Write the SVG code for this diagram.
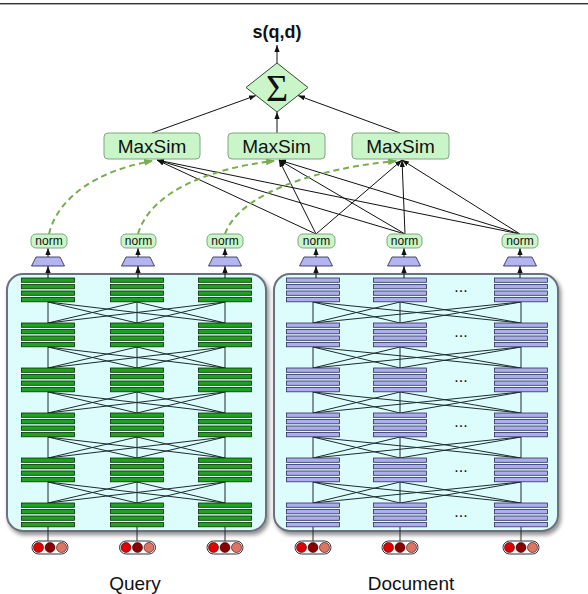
<svg xmlns="http://www.w3.org/2000/svg" xmlns:xlink="http://www.w3.org/1999/xlink" width="588" height="594" viewBox="0 0 588 594">
<style>
.lbl{font-family:"Liberation Sans",Arial,sans-serif;fill:#111;}
.box{fill:#c9f5c9;stroke:#7fa87f;stroke-width:1;}
.edge{stroke:#111;stroke-width:1;fill:none;}
.mesh{stroke:#1c2c2c;stroke-width:1;fill:none;}
.dash{stroke:#77ad4f;stroke-width:2;stroke-dasharray:6 4;fill:none;}
.cont{fill:#ddfcfc;stroke:#6e7080;stroke-width:2;}
.qb{fill:#1fa31f;stroke:#0b2e0b;stroke-width:0.8;}
.db{fill:#adadec;stroke:#2e2e5e;stroke-width:0.8;}
.trap{fill:#b4b4f0;stroke:#222244;stroke-width:0.8;}
.cap{fill:#fff;stroke:#333;stroke-width:1;}
</style>
<defs>
<marker id="ah" viewBox="0 0 8 6" refX="8" refY="3" markerWidth="7" markerHeight="5.5" markerUnits="userSpaceOnUse" orient="auto"><path d="M0,0 L8,3 L0,6 z" fill="#111"/></marker>
<marker id="gh" viewBox="0 0 8 6" refX="7" refY="3" markerWidth="9" markerHeight="7" markerUnits="userSpaceOnUse" orient="auto"><path d="M0,0 L8,3 L0,6 z" fill="#77ad4f"/></marker>
<filter id="sh" x="-10%" y="-10%" width="125%" height="125%"><feGaussianBlur in="SourceAlpha" stdDeviation="2"/><feOffset dx="2" dy="3"/><feComponentTransfer><feFuncA type="linear" slope="0.45"/></feComponentTransfer><feMerge><feMergeNode/><feMergeNode in="SourceGraphic"/></feMerge></filter>
<g id="qblk"><rect class="qb" x="-26.5" y="0" width="53" height="4.3"/><rect class="qb" x="-26.5" y="6.5" width="53" height="4.3"/><rect class="qb" x="-26.5" y="13" width="53" height="4.3"/><rect class="qb" x="-26.5" y="19.5" width="53" height="4.3"/></g>
<g id="dblk"><rect class="db" x="-26.5" y="0" width="53" height="4.3"/><rect class="db" x="-26.5" y="6.5" width="53" height="4.3"/><rect class="db" x="-26.5" y="13" width="53" height="4.3"/><rect class="db" x="-26.5" y="19.5" width="53" height="4.3"/></g>
<path id="qmesh" class="mesh" d="M48,0 L48,21 M48,0 L137,21 M48,0 L225,21 M137,0 L48,21 M137,0 L137,21 M137,0 L225,21 M225,0 L48,21 M225,0 L137,21 M225,0 L225,21"/>
<path id="dmesh" class="mesh" d="M313,0 L313,21 M313,0 L400,21 M313,0 L521,21 M400,0 L313,21 M400,0 L400,21 M400,0 L521,21 M521,0 L313,21 M521,0 L400,21 M521,0 L521,21"/>
<g id="tok"><rect class="cap" x="-18" y="-6.5" width="36" height="13" rx="6.5"/><circle cx="-11.5" cy="0" r="5" fill="#e00000" stroke="#3a0000" stroke-width="0.6"/><circle cx="0" cy="0" r="5" fill="#8a0000" stroke="#3a0000" stroke-width="0.6"/><circle cx="11.5" cy="0" r="5" fill="#dc7565" stroke="#3a0000" stroke-width="0.6"/></g>
</defs>
<rect width="588" height="594" fill="#fff"/>
<rect x="0" y="3" width="588" height="1" fill="#333"/>
<rect x="0" y="4" width="588" height="1" fill="#aaa"/>

<g id="query-encoder">
<rect class="cont" x="7" y="274" width="259" height="257" rx="16" filter="url(#sh)"/>
<use href="#qmesh" y="302"/><use href="#qmesh" y="347"/><use href="#qmesh" y="392"/><use href="#qmesh" y="437"/><use href="#qmesh" y="482"/>
<use href="#qblk" x="48" y="278"/><use href="#qblk" x="137" y="278"/><use href="#qblk" x="225" y="278"/>
<use href="#qblk" x="48" y="323"/><use href="#qblk" x="137" y="323"/><use href="#qblk" x="225" y="323"/>
<use href="#qblk" x="48" y="368"/><use href="#qblk" x="137" y="368"/><use href="#qblk" x="225" y="368"/>
<use href="#qblk" x="48" y="413"/><use href="#qblk" x="137" y="413"/><use href="#qblk" x="225" y="413"/>
<use href="#qblk" x="48" y="458"/><use href="#qblk" x="137" y="458"/><use href="#qblk" x="225" y="458"/>
<use href="#qblk" x="48" y="503"/><use href="#qblk" x="137" y="503"/><use href="#qblk" x="225" y="503"/>
</g>

<g id="doc-encoder">
<rect class="cont" x="274" y="274" width="284" height="257" rx="16" filter="url(#sh)"/>
<use href="#dmesh" y="302"/><use href="#dmesh" y="347"/><use href="#dmesh" y="392"/><use href="#dmesh" y="437"/><use href="#dmesh" y="482"/>
<use href="#dblk" x="313" y="278"/><use href="#dblk" x="400" y="278"/><use href="#dblk" x="521" y="278"/>
<use href="#dblk" x="313" y="323"/><use href="#dblk" x="400" y="323"/><use href="#dblk" x="521" y="323"/>
<use href="#dblk" x="313" y="368"/><use href="#dblk" x="400" y="368"/><use href="#dblk" x="521" y="368"/>
<use href="#dblk" x="313" y="413"/><use href="#dblk" x="400" y="413"/><use href="#dblk" x="521" y="413"/>
<use href="#dblk" x="313" y="458"/><use href="#dblk" x="400" y="458"/><use href="#dblk" x="521" y="458"/>
<use href="#dblk" x="313" y="503"/><use href="#dblk" x="400" y="503"/><use href="#dblk" x="521" y="503"/>
<g class="lbl" font-size="16" text-anchor="middle">
<text x="461" y="292">...</text><text x="461" y="337">...</text><text x="461" y="382">...</text><text x="461" y="427">...</text><text x="461" y="472">...</text><text x="461" y="517">...</text>
</g>
</g>

<g id="connectors">
<line class="edge" x1="277" y1="63" x2="277" y2="45" marker-end="url(#ah)"/>
<line class="edge" x1="152" y1="133" x2="256" y2="95.5" marker-end="url(#ah)"/>
<line class="edge" x1="277" y1="133" x2="277" y2="112" marker-end="url(#ah)"/>
<line class="edge" x1="400" y1="133" x2="298" y2="95.5" marker-end="url(#ah)"/>
<line class="edge" x1="316" y1="234" x2="157" y2="160" marker-end="url(#ah)"/>
<line class="edge" x1="316" y1="234" x2="279" y2="160" marker-end="url(#ah)"/>
<line class="edge" x1="316" y1="234" x2="402" y2="160" marker-end="url(#ah)"/>
<line class="edge" x1="405" y1="234" x2="157" y2="160" marker-end="url(#ah)"/>
<line class="edge" x1="405" y1="234" x2="279" y2="160" marker-end="url(#ah)"/>
<line class="edge" x1="405" y1="234" x2="402" y2="160" marker-end="url(#ah)"/>
<line class="edge" x1="520" y1="234" x2="157" y2="160" marker-end="url(#ah)"/>
<line class="edge" x1="520" y1="234" x2="279" y2="160" marker-end="url(#ah)"/>
<line class="edge" x1="520" y1="234" x2="402" y2="160" marker-end="url(#ah)"/>
<path class="dash" d="M49,234 C58,196 100,170 152,161" marker-end="url(#gh)"/>
<path class="dash" d="M138,234 C150,192 210,168 274,161" marker-end="url(#gh)"/>
<path class="dash" d="M225,234 C240,192 320,168 396,161" marker-end="url(#gh)"/>
<g>
<line class="edge" x1="48" y1="278" x2="48" y2="266" marker-end="url(#ah)"/>
<line class="edge" x1="138" y1="278" x2="138" y2="266" marker-end="url(#ah)"/>
<line class="edge" x1="225" y1="278" x2="225" y2="266" marker-end="url(#ah)"/>
<line class="edge" x1="316" y1="278" x2="316" y2="266" marker-end="url(#ah)"/>
<line class="edge" x1="404" y1="278" x2="404" y2="266" marker-end="url(#ah)"/>
<line class="edge" x1="520" y1="278" x2="520" y2="266" marker-end="url(#ah)"/>
<line class="edge" x1="48" y1="257" x2="48" y2="248" marker-end="url(#ah)"/>
<line class="edge" x1="138" y1="257" x2="138" y2="248" marker-end="url(#ah)"/>
<line class="edge" x1="225" y1="257" x2="225" y2="248" marker-end="url(#ah)"/>
<line class="edge" x1="316" y1="257" x2="316" y2="248" marker-end="url(#ah)"/>
<line class="edge" x1="404" y1="257" x2="404" y2="248" marker-end="url(#ah)"/>
<line class="edge" x1="520" y1="257" x2="520" y2="248" marker-end="url(#ah)"/>
</g>
<g class="mesh">
<line x1="48" y1="527" x2="48" y2="541"/><line x1="137" y1="527" x2="137" y2="541"/><line x1="225" y1="527" x2="225" y2="541"/>
<line x1="313" y1="527" x2="313" y2="541"/><line x1="400" y1="527" x2="400" y2="541"/><line x1="521" y1="527" x2="521" y2="541"/>
</g>
</g>

<g id="score"><text class="lbl" x="277" y="38" font-size="18" font-weight="bold" text-anchor="middle">s(q,d)</text></g>
<g id="sum">
<polygon points="277,63 308,87.5 277,112 246,87.5" fill="#c9f5c9" stroke="#2f4f2f" stroke-width="1"/>
<text x="277" y="101" font-family="'Liberation Serif','DejaVu Serif',serif" font-size="38" text-anchor="middle" fill="#111">Σ</text>
</g>
<g id="maxsim1"><rect class="box" x="104" y="133" width="96" height="26" rx="4"/><text class="lbl" x="152" y="153" font-size="19" text-anchor="middle">MaxSim</text></g>
<g id="maxsim2"><rect class="box" x="228" y="133" width="97" height="26" rx="4"/><text class="lbl" x="276.5" y="153" font-size="19" text-anchor="middle">MaxSim</text></g>
<g id="maxsim3"><rect class="box" x="352" y="133" width="97" height="26" rx="4"/><text class="lbl" x="400.5" y="153" font-size="19" text-anchor="middle">MaxSim</text></g>

<g id="q-norm1"><rect class="box" x="31" y="234" width="36" height="14" rx="5"/><text class="lbl" x="49" y="245" font-size="12" text-anchor="middle">norm</text></g>
<g id="q-norm2"><rect class="box" x="121" y="234" width="35" height="14" rx="5"/><text class="lbl" x="138.5" y="245" font-size="12" text-anchor="middle">norm</text></g>
<g id="q-norm3"><rect class="box" x="207" y="234" width="36" height="14" rx="5"/><text class="lbl" x="225" y="245" font-size="12" text-anchor="middle">norm</text></g>
<g id="d-norm1"><rect class="box" x="298" y="234" width="37" height="14" rx="5"/><text class="lbl" x="316.5" y="245" font-size="12" text-anchor="middle">norm</text></g>
<g id="d-norm2"><rect class="box" x="387" y="234" width="35" height="14" rx="5"/><text class="lbl" x="404.5" y="245" font-size="12" text-anchor="middle">norm</text></g>
<g id="d-norm3"><rect class="box" x="502" y="234" width="36" height="14" rx="5"/><text class="lbl" x="520" y="245" font-size="12" text-anchor="middle">norm</text></g>

<g id="q-lin1"><polygon class="trap" points="36,257 60,257 64.5,266 31.5,266" transform="translate(0,0)"/></g>
<g id="q-lin2"><polygon class="trap" points="126,257 150,257 154.5,266 121.5,266"/></g>
<g id="q-lin3"><polygon class="trap" points="213,257 237,257 241.5,266 208.5,266"/></g>
<g id="d-lin1"><polygon class="trap" points="304,257 328,257 332.5,266 299.5,266"/></g>
<g id="d-lin2"><polygon class="trap" points="392,257 416,257 420.5,266 387.5,266"/></g>
<g id="d-lin3"><polygon class="trap" points="508,257 532,257 536.5,266 503.5,266"/></g>

<g id="q-tok1"><use href="#tok" x="50" y="547.5"/></g>
<g id="q-tok2"><use href="#tok" x="137.5" y="547.5"/></g>
<g id="q-tok3"><use href="#tok" x="225" y="547.5"/></g>
<g id="d-tok1"><use href="#tok" x="313" y="547.5"/></g>
<g id="d-tok2"><use href="#tok" x="400" y="547.5"/></g>
<g id="d-tok3"><use href="#tok" x="521" y="547.5"/></g>

<g id="query-label"><text class="lbl" x="135" y="590" font-size="19" text-anchor="middle">Query</text></g>
<g id="doc-label"><text class="lbl" x="411" y="590" font-size="19" text-anchor="middle">Document</text></g>
</svg>
